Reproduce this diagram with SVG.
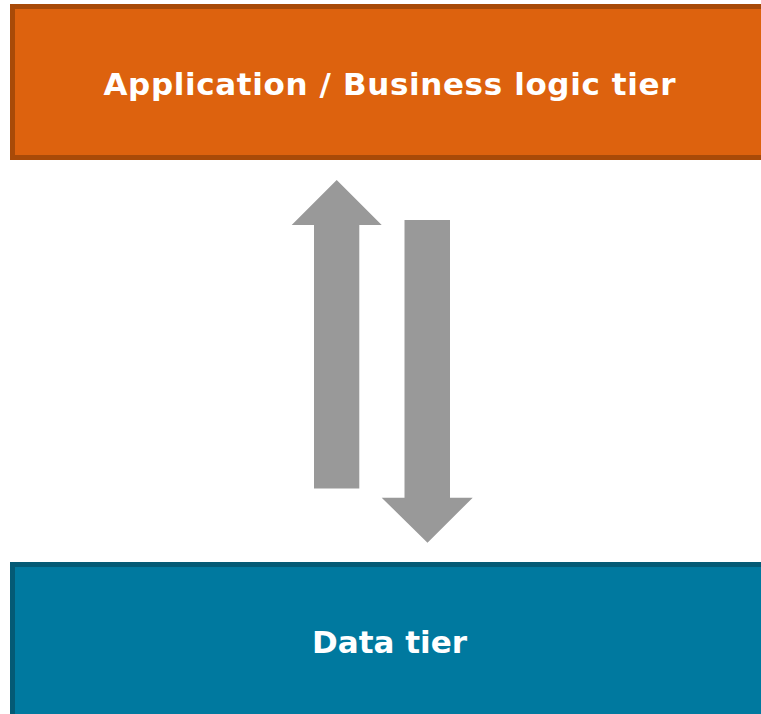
<svg xmlns="http://www.w3.org/2000/svg" width="761" height="714" viewBox="0 0 761 714">
<style>
.lbl{font-family:"DejaVu Sans","Liberation Sans",sans-serif;font-weight:bold;fill:#ffffff;text-anchor:middle}
.arrow{fill:#999999}
</style>
<rect width="761" height="714" fill="#ffffff"/>
<g id="app-tier">
<rect x="12.5" y="6.5" width="770" height="151" fill="#DD620E" stroke="#A84A08" stroke-width="5"/>
<text class="lbl" x="389.5" y="94.5" font-size="31" textLength="572" lengthAdjust="spacing">Application / Business logic tier</text>
</g>
<g id="data-tier">
<rect x="12.5" y="564.5" width="770" height="170" fill="#00799F" stroke="#045A75" stroke-width="5"/>
<text class="lbl" x="389.5" y="653.3" font-size="31">Data tier</text>
</g>
<g id="connectors">
<polygon class="arrow" points="336.7,180 381.7,225 359.3,225 359.3,488.5 314,488.5 314,225 291.7,225"/>
<polygon class="arrow" points="404.5,220 450,220 450,497.7 472.7,497.7 427.5,542.7 381.7,497.7 404.5,497.7"/>
</g>
</svg>
